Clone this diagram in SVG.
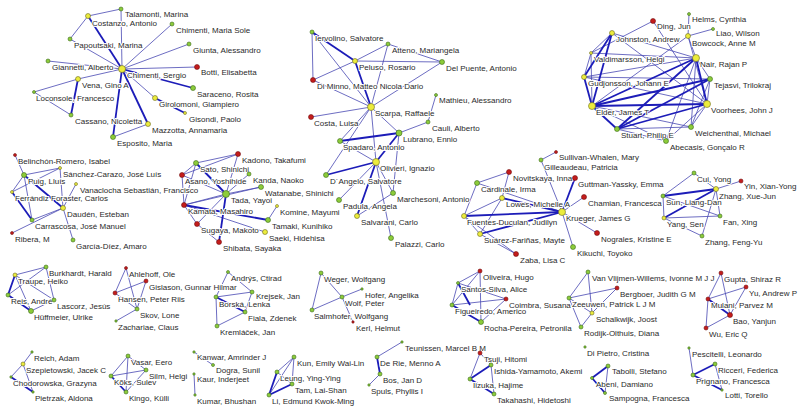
<svg xmlns="http://www.w3.org/2000/svg" width="798" height="408" viewBox="0 0 798 408">
<style>
.e line{stroke:#4848b2;stroke-width:.8}
.e line.t{stroke:#1c1cb8;stroke-width:1.8}
.y{fill:#ecec3c;stroke:#6a6a20;stroke-width:.6}
.g{fill:#8ccc3a;stroke:#3a6a1a;stroke-width:.6}
.r{fill:#c41c1c;stroke:#701010;stroke-width:.6}
text{font-family:"Liberation Sans",Arial,sans-serif;font-size:8px;fill:#2a2a2a;paint-order:stroke;stroke:#fff;stroke-width:2px;stroke-linejoin:round}
</style>
<rect width="798" height="408" fill="#fff"/>
<g id="connectors" class="e">
<!-- cluster Chimenti -->
<line x1="88" y1="16" x2="121" y2="9"/>
<line x1="88" y1="16" x2="70" y2="39"/>
<line x1="121" y1="9" x2="122" y2="69"/>
<line x1="172" y1="24" x2="122" y2="69"/>
<line x1="70" y1="39" x2="122" y2="69"/>
<line x1="189" y1="44" x2="122" y2="69"/>
<line x1="48" y1="61" x2="122" y2="69"/>
<line x1="122" y1="69" x2="197" y2="67"/>
<line x1="78" y1="79" x2="122" y2="69"/>
<line x1="34" y1="92" x2="78" y2="79"/>
<line x1="34" y1="92" x2="71" y2="115"/>
<line x1="122" y1="69" x2="155" y2="98"/>
<line x1="148" y1="124" x2="113" y2="137"/>
<line class="t" x1="88" y1="16" x2="122" y2="69"/>
<line class="t" x1="78" y1="79" x2="71" y2="115"/>
<line class="t" x1="122" y1="69" x2="193" y2="88"/>
<line class="t" x1="155" y1="98" x2="185" y2="113"/>
<line class="t" x1="122" y1="69" x2="113" y2="137"/>
<line class="t" x1="122" y1="69" x2="148" y2="124"/>
<!-- cluster Scarpa -->
<line x1="312" y1="32" x2="313" y2="80"/>
<line x1="312" y1="32" x2="371" y2="107"/>
<line x1="355" y1="61" x2="388" y2="44"/>
<line x1="355" y1="61" x2="313" y2="80"/>
<line x1="355" y1="61" x2="442" y2="62"/>
<line x1="388" y1="44" x2="442" y2="62"/>
<line x1="388" y1="44" x2="371" y2="107"/>
<line x1="442" y1="62" x2="371" y2="107"/>
<line x1="313" y1="80" x2="371" y2="107"/>
<line x1="371" y1="107" x2="311" y2="117"/>
<line x1="371" y1="107" x2="340" y2="141"/>
<line x1="371" y1="107" x2="399" y2="133"/>
<line x1="399" y1="133" x2="428" y2="122"/>
<line x1="428" y1="122" x2="436" y2="95"/>
<line x1="371" y1="107" x2="376" y2="162"/>
<line x1="340" y1="141" x2="376" y2="162"/>
<line x1="326" y1="175" x2="371" y2="107"/>
<line x1="376" y1="162" x2="339" y2="200"/>
<line x1="376" y1="162" x2="393" y2="193"/>
<line x1="399" y1="133" x2="393" y2="193"/>
<line x1="376" y1="162" x2="391" y2="238"/>
<line x1="357" y1="216" x2="393" y2="193"/>
<line class="t" x1="312" y1="32" x2="355" y2="61"/>
<line class="t" x1="355" y1="61" x2="371" y2="107"/>
<line class="t" x1="340" y1="141" x2="399" y2="133"/>
<line class="t" x1="376" y1="162" x2="326" y2="175"/>
<line class="t" x1="376" y1="162" x2="399" y2="133"/>
<line class="t" x1="376" y1="162" x2="357" y2="216"/>
<!-- cluster Elder / Nair -->
<line x1="689" y1="14" x2="688" y2="36"/>
<line x1="713" y1="29" x2="688" y2="36"/>
<line x1="653" y1="21" x2="591" y2="53"/>
<line x1="653" y1="21" x2="707" y2="104"/>
<line x1="612" y1="33" x2="591" y2="53"/>
<line x1="612" y1="33" x2="696" y2="58"/>
<line x1="612" y1="33" x2="707" y2="104"/>
<line x1="688" y1="36" x2="696" y2="58"/>
<line x1="688" y1="36" x2="592" y2="106"/>
<line x1="688" y1="36" x2="707" y2="104"/>
<line x1="591" y1="53" x2="584" y2="77"/>
<line x1="591" y1="53" x2="592" y2="106"/>
<line x1="591" y1="53" x2="696" y2="58"/>
<line x1="584" y1="77" x2="696" y2="58"/>
<line x1="584" y1="77" x2="710" y2="79"/>
<line x1="592" y1="106" x2="691" y2="127"/>
<line x1="592" y1="106" x2="666" y2="141"/>
<line x1="696" y1="58" x2="710" y2="79"/>
<line x1="696" y1="58" x2="691" y2="127"/>
<line x1="696" y1="58" x2="666" y2="141"/>
<line x1="710" y1="79" x2="707" y2="104"/>
<line x1="707" y1="104" x2="691" y2="127"/>
<line x1="707" y1="104" x2="666" y2="141"/>
<line x1="617" y1="129" x2="691" y2="127"/>
<line x1="617" y1="129" x2="666" y2="141"/>
<line x1="710" y1="79" x2="691" y2="127"/>
<line x1="584" y1="77" x2="707" y2="104"/>
<line class="t" x1="612" y1="33" x2="584" y2="77"/>
<line class="t" x1="612" y1="33" x2="592" y2="106"/>
<line class="t" x1="584" y1="77" x2="592" y2="106"/>
<line class="t" x1="592" y1="106" x2="696" y2="58"/>
<line class="t" x1="592" y1="106" x2="710" y2="79"/>
<line class="t" x1="592" y1="106" x2="707" y2="104"/>
<line class="t" x1="592" y1="106" x2="617" y2="129"/>
<line class="t" x1="696" y1="58" x2="707" y2="104"/>
<line class="t" x1="696" y1="58" x2="617" y2="129"/>
<line class="t" x1="710" y1="79" x2="617" y2="129"/>
<line class="t" x1="707" y1="104" x2="617" y2="129"/>
<!-- cluster Daudén -->
<line x1="15" y1="155" x2="24" y2="175"/>
<line x1="24" y1="175" x2="60" y2="168"/>
<line x1="24" y1="175" x2="12" y2="192"/>
<line x1="24" y1="175" x2="32" y2="220"/>
<line x1="60" y1="168" x2="63" y2="208"/>
<line x1="12" y1="192" x2="60" y2="168"/>
<line x1="76" y1="184" x2="63" y2="208"/>
<line x1="32" y1="220" x2="63" y2="208"/>
<line x1="12" y1="233" x2="63" y2="208"/>
<line x1="63" y1="208" x2="73" y2="240"/>
<line class="t" x1="24" y1="175" x2="63" y2="208"/>
<line class="t" x1="12" y1="192" x2="32" y2="220"/>
<!-- cluster Tada -->
<line x1="238" y1="154" x2="196" y2="163"/>
<line x1="238" y1="154" x2="182" y2="175"/>
<line x1="238" y1="154" x2="226" y2="194"/>
<line x1="196" y1="163" x2="182" y2="175"/>
<line x1="182" y1="175" x2="226" y2="194"/>
<line x1="226" y1="194" x2="249" y2="174"/>
<line x1="226" y1="194" x2="261" y2="187"/>
<line x1="226" y1="194" x2="184" y2="205"/>
<line x1="184" y1="205" x2="261" y2="187"/>
<line x1="226" y1="194" x2="197" y2="224"/>
<line x1="268" y1="220" x2="277" y2="206"/>
<line x1="184" y1="205" x2="265" y2="232"/>
<line x1="197" y1="224" x2="219" y2="242"/>
<line x1="184" y1="205" x2="197" y2="224"/>
<line x1="182" y1="175" x2="184" y2="205"/>
<line x1="196" y1="163" x2="184" y2="205"/>
<line class="t" x1="196" y1="163" x2="226" y2="194"/>
<line class="t" x1="226" y1="194" x2="219" y2="242"/>
<line class="t" x1="184" y1="205" x2="268" y2="220"/>
<!-- cluster Krueger -->
<line x1="509" y1="172" x2="477" y2="183"/>
<line x1="509" y1="172" x2="502" y2="198"/>
<line x1="477" y1="183" x2="464" y2="216"/>
<line x1="502" y1="198" x2="464" y2="216"/>
<line x1="502" y1="198" x2="480" y2="234"/>
<line x1="464" y1="216" x2="480" y2="234"/>
<line x1="480" y1="234" x2="516" y2="254"/>
<line x1="464" y1="216" x2="516" y2="254"/>
<line x1="556" y1="152" x2="541" y2="160"/>
<line x1="541" y1="160" x2="562" y2="212"/>
<line x1="584" y1="197" x2="562" y2="212"/>
<line x1="562" y1="212" x2="597" y2="233"/>
<line x1="562" y1="212" x2="573" y2="247"/>
<line x1="477" y1="183" x2="562" y2="212"/>
<line class="t" x1="502" y1="198" x2="562" y2="212"/>
<line class="t" x1="464" y1="216" x2="562" y2="212"/>
<line class="t" x1="480" y1="234" x2="562" y2="212"/>
<line class="t" x1="575" y1="178" x2="562" y2="212"/>
<!-- cluster Zhang -->
<line x1="694" y1="173" x2="663" y2="196"/>
<line x1="694" y1="173" x2="716" y2="189"/>
<line x1="716" y1="189" x2="741" y2="181"/>
<line x1="716" y1="189" x2="720" y2="216"/>
<line x1="716" y1="189" x2="702" y2="236"/>
<line x1="663" y1="196" x2="664" y2="218"/>
<line x1="663" y1="196" x2="720" y2="216"/>
<line x1="664" y1="218" x2="720" y2="216"/>
<line x1="664" y1="218" x2="702" y2="236"/>
<line class="t" x1="716" y1="189" x2="663" y2="196"/>
<line class="t" x1="664" y1="218" x2="716" y2="189"/>
<!-- cluster Traupe -->
<line x1="15" y1="275" x2="46" y2="267"/>
<line x1="15" y1="275" x2="31" y2="311"/>
<line x1="15" y1="275" x2="54" y2="300"/>
<line x1="46" y1="267" x2="8" y2="295"/>
<line x1="46" y1="267" x2="54" y2="300"/>
<line x1="31" y1="311" x2="54" y2="300"/>
<line class="t" x1="15" y1="275" x2="8" y2="295"/>
<line class="t" x1="8" y1="295" x2="31" y2="311"/>
<!-- cluster Ahlehoff -->
<line x1="126" y1="268" x2="115" y2="293"/>
<line x1="126" y1="268" x2="137" y2="309"/>
<line x1="115" y1="293" x2="146" y2="281"/>
<line x1="146" y1="281" x2="137" y2="309"/>
<line x1="115" y1="293" x2="137" y2="309"/>
<line x1="137" y1="309" x2="116" y2="321"/>
<!-- cluster Borská -->
<line x1="228" y1="272" x2="216" y2="297"/>
<line x1="228" y1="272" x2="252" y2="292"/>
<line x1="216" y1="297" x2="252" y2="292"/>
<line x1="216" y1="297" x2="217" y2="326"/>
<line x1="252" y1="292" x2="245" y2="312"/>
<line x1="217" y1="326" x2="245" y2="312"/>
<line class="t" x1="216" y1="297" x2="245" y2="312"/>
<!-- cluster Weger -->
<line x1="321" y1="273" x2="312" y2="310"/>
<line x1="321" y1="273" x2="342" y2="297"/>
<line x1="312" y1="310" x2="342" y2="297"/>
<line x1="342" y1="297" x2="362" y2="289"/>
<line x1="342" y1="297" x2="353" y2="322"/>
<!-- cluster Oliveira -->
<line x1="480" y1="271" x2="458" y2="283"/>
<line x1="480" y1="271" x2="452" y2="305"/>
<line x1="480" y1="271" x2="481" y2="322"/>
<line x1="458" y1="283" x2="452" y2="305"/>
<line x1="458" y1="283" x2="506" y2="299"/>
<line x1="452" y1="305" x2="506" y2="299"/>
<line x1="506" y1="299" x2="481" y2="322"/>
<line class="t" x1="452" y1="305" x2="481" y2="322"/>
<line class="t" x1="458" y1="283" x2="470" y2="305"/>
<!-- cluster Schalkwijk -->
<line x1="588" y1="272" x2="569" y2="298"/>
<line x1="588" y1="272" x2="592" y2="313"/>
<line x1="569" y1="298" x2="617" y2="288"/>
<line x1="569" y1="298" x2="592" y2="313"/>
<line x1="569" y1="298" x2="581" y2="327"/>
<line x1="581" y1="327" x2="592" y2="313"/>
<line x1="617" y1="288" x2="592" y2="313"/>
<!-- cluster Gupta -->
<line x1="721" y1="273" x2="708" y2="299"/>
<line x1="721" y1="273" x2="730" y2="315"/>
<line x1="746" y1="287" x2="708" y2="299"/>
<line x1="746" y1="287" x2="730" y2="315"/>
<line x1="708" y1="299" x2="706" y2="328"/>
<line x1="706" y1="328" x2="730" y2="315"/>
<line class="t" x1="708" y1="299" x2="730" y2="315"/>
<!-- cluster Szepietowski -->
<line x1="32" y1="352" x2="23" y2="364"/>
<line x1="23" y1="364" x2="11" y2="377"/>
<line x1="23" y1="364" x2="33" y2="392"/>
<line class="t" x1="11" y1="377" x2="33" y2="392"/>
<!-- cluster Vasar -->
<line x1="128" y1="356" x2="111" y2="376"/>
<line x1="128" y1="356" x2="146" y2="370"/>
<line x1="128" y1="356" x2="126" y2="392"/>
<line x1="111" y1="376" x2="146" y2="370"/>
<line x1="146" y1="370" x2="126" y2="392"/>
<line class="t" x1="111" y1="376" x2="126" y2="392"/>
<!-- cluster Kanwar -->
<line x1="194" y1="352" x2="213" y2="365"/>
<line x1="194" y1="374" x2="195" y2="395"/>
<!-- cluster Kun -->
<line x1="294" y1="357" x2="277" y2="372"/>
<line x1="294" y1="357" x2="269" y2="395"/>
<line x1="294" y1="357" x2="292" y2="384"/>
<line x1="277" y1="372" x2="292" y2="384"/>
<line class="t" x1="277" y1="372" x2="269" y2="395"/>
<line class="t" x1="269" y1="395" x2="292" y2="384"/>
<!-- cluster De Rie -->
<line x1="377" y1="357" x2="402" y2="342"/>
<line x1="380" y1="374" x2="369" y2="385"/>
<line class="t" x1="377" y1="357" x2="380" y2="374"/>
<!-- cluster Tsuji -->
<line x1="480" y1="353" x2="470" y2="379"/>
<line x1="480" y1="353" x2="491" y2="365"/>
<line x1="491" y1="365" x2="494" y2="394"/>
<line class="t" x1="470" y1="379" x2="491" y2="365"/>
<line class="t" x1="470" y1="379" x2="494" y2="394"/>
<!-- cluster Tabolli -->
<line x1="608" y1="366" x2="605" y2="393"/>
<line class="t" x1="608" y1="366" x2="592" y2="378"/>
<line class="t" x1="592" y1="378" x2="605" y2="393"/>
<!-- cluster Prignano -->
<line x1="689" y1="348" x2="693" y2="375"/>
<line x1="715" y1="364" x2="722" y2="390"/>
<line class="t" x1="693" y1="375" x2="715" y2="364"/>
<line class="t" x1="693" y1="375" x2="722" y2="390"/>
</g>
<g id="nodes">
<g id="costanzo-antonio"><circle class="y" cx="88" cy="16" r="2.5"/><text x="92" y="26">Costanzo, Antonio</text></g>
<g id="talamonti-marina"><circle class="g" cx="121" cy="9" r="2"/><text x="125" y="17">Talamonti, Marina</text></g>
<g id="chimenti-maria-sole"><circle class="g" cx="172" cy="24" r="2"/><text x="176" y="33">Chimenti, Maria Sole</text></g>
<g id="papoutsaki-marina"><circle class="g" cx="70" cy="39" r="2"/><text x="74" y="48">Papoutsaki, Marina</text></g>
<g id="giunta-alessandro"><circle class="g" cx="189" cy="44" r="2"/><text x="193" y="53">Giunta, Alessandro</text></g>
<g id="giannetti-alberto"><circle class="g" cx="48" cy="61" r="2"/><text x="52" y="70">Giannetti, Alberto</text></g>
<g id="chimenti-sergio"><circle class="y" cx="122" cy="69" r="3.5"/><text x="127" y="78">Chimenti, Sergio</text></g>
<g id="botti-elisabetta"><circle class="r" cx="197" cy="67" r="2.5"/><text x="201" y="75">Botti, Elisabetta</text></g>
<g id="vena-gino-a"><circle class="y" cx="78" cy="79" r="2.5"/><text x="82" y="88">Vena, Gino A</text></g>
<g id="loconsole-francesco"><circle class="g" cx="34" cy="92" r="1.5"/><text x="36" y="101">Loconsole, Francesco</text></g>
<g id="saraceno-rosita"><circle class="g" cx="193" cy="88" r="2.5"/><text x="197" y="97">Saraceno, Rosita</text></g>
<g id="girolomoni-giampiero"><circle class="y" cx="155" cy="98" r="2.5"/><text x="159" y="107">Girolomoni, Giampiero</text></g>
<g id="gisondi-paolo"><circle class="y" cx="185" cy="113" r="1.5"/><text x="189" y="122">Gisondi, Paolo</text></g>
<g id="cassano-nicoletta"><circle class="g" cx="71" cy="115" r="2"/><text x="75" y="124">Cassano, Nicoletta</text></g>
<g id="mazzotta-annamaria"><circle class="y" cx="148" cy="124" r="2.5"/><text x="152" y="133">Mazzotta, Annamaria</text></g>
<g id="esposito-maria"><circle class="g" cx="113" cy="137" r="2.5"/><text x="117" y="146">Esposito, Maria</text></g>

<g id="iervolino-salvatore"><circle class="g" cx="312" cy="32" r="2"/><text x="315" y="41">Iervolino, Salvatore</text></g>
<g id="atteno-mariangela"><circle class="g" cx="388" cy="44" r="2"/><text x="392" y="53">Atteno, Mariangela</text></g>
<g id="peluso-rosario"><circle class="y" cx="355" cy="61" r="2.5"/><text x="359" y="70">Peluso, Rosario</text></g>
<g id="del-puente-antonio"><circle class="g" cx="442" cy="62" r="2.5"/><text x="446" y="71">Del Puente, Antonio</text></g>
<g id="di-minno"><circle class="r" cx="313" cy="80" r="2.5"/><text x="317" y="89">Di Minno, Matteo Nicola Dario</text></g>
<g id="mathieu-alessandro"><circle class="g" cx="436" cy="95" r="1.5"/><text x="439" y="103">Mathieu, Alessandro</text></g>
<g id="scarpa-raffaele"><circle class="y" cx="371" cy="107" r="3.5"/><text x="375" y="116">Scarpa, Raffaele</text></g>
<g id="costa-luisa"><circle class="r" cx="311" cy="117" r="2.5"/><text x="314" y="126">Costa, Luisa</text></g>
<g id="cauli-alberto"><circle class="g" cx="428" cy="122" r="2"/><text x="432" y="131">Cauli, Alberto</text></g>
<g id="lubrano-ennio"><circle class="g" cx="399" cy="133" r="3"/><text x="403" y="142">Lubrano, Ennio</text></g>
<g id="spadaro-antonio"><circle class="g" cx="340" cy="141" r="2.5"/><text x="343" y="150">Spadaro, Antonio</text></g>
<g id="olivieri-ignazio"><circle class="y" cx="376" cy="162" r="3.5"/><text x="380" y="171">Olivieri, Ignazio</text></g>
<g id="dangelo-salvatore"><circle class="g" cx="326" cy="175" r="2.5"/><text x="330" y="184">D´Angelo, Salvatore</text></g>
<g id="marchesoni-antonio"><circle class="g" cx="393" cy="193" r="2.5"/><text x="397" y="202">Marchesoni, Antonio</text></g>
<g id="padula-angela"><circle class="g" cx="339" cy="200" r="2.5"/><text x="343" y="209">Padula, Angela</text></g>
<g id="salvarani-carlo"><circle class="y" cx="357" cy="216" r="2.5"/><text x="361" y="225">Salvarani, Carlo</text></g>
<g id="palazzi-carlo"><circle class="g" cx="391" cy="238" r="2.5"/><text x="395" y="247">Palazzi, Carlo</text></g>

<g id="ding-jun"><circle class="r" cx="653" cy="21" r="2.5"/><text x="657" y="29">Ding, Jun</text></g>
<g id="helms-cynthia"><circle class="g" cx="689" cy="14" r="1.5"/><text x="692" y="22">Helms, Cynthia</text></g>
<g id="liao-wilson"><circle class="g" cx="713" cy="29" r="1.5"/><text x="716" y="36">Liao, Wilson</text></g>
<g id="johnston-andrew"><circle class="y" cx="612" cy="33" r="2.5"/><text x="616" y="42">Johnston, Andrew</text></g>
<g id="bowcock-anne-m"><circle class="y" cx="688" cy="36" r="2.5"/><text x="692" y="46">Bowcock, Anne M</text></g>
<g id="valdimarsson-helgi"><circle class="y" cx="591" cy="53" r="1.5"/><text x="594" y="62">Valdimarsson, Helgi</text></g>
<g id="nair-rajan-p"><circle class="y" cx="696" cy="58" r="3.5"/><text x="700" y="67">Nair, Rajan P</text></g>
<g id="gudjonsson-johann-e"><circle class="y" cx="584" cy="77" r="2.5"/><text x="588" y="86">Gudjonsson, Johann E</text></g>
<g id="tejasvi-trilokraj"><circle class="g" cx="710" cy="79" r="2.5"/><text x="714" y="88">Tejasvi, Trilokraj</text></g>
<g id="elder-james-t"><circle class="y" cx="592" cy="106" r="3.5"/><text x="596" y="115">Elder, James T</text></g>
<g id="voorhees-john-j"><circle class="y" cx="707" cy="104" r="3.5"/><text x="711" y="113">Voorhees, John J</text></g>
<g id="stuart-philip-e"><circle class="g" cx="617" cy="129" r="2.5"/><text x="621" y="138">Stuart, Philip E</text></g>
<g id="weichenthal-michael"><circle class="g" cx="691" cy="127" r="2.5"/><text x="695" y="136">Weichenthal, Michael</text></g>
<g id="abecasis-goncalo-r"><circle class="g" cx="666" cy="141" r="2.5"/><text x="670" y="150">Abecasis, Gonçalo R</text></g>

<g id="belinchon-romero-isabel"><circle class="r" cx="15" cy="155" r="1.5"/><text x="18" y="164">Belinchón-Romero, Isabel</text></g>
<g id="sanchez-carazo"><circle class="y" cx="60" cy="168" r="1.5"/><text x="63" y="177">Sánchez-Carazo, José Luís</text></g>
<g id="puig-lluis"><circle class="g" cx="24" cy="175" r="2.5"/><text x="28" y="184">Puig, Lluís</text></g>
<g id="vanaclocha"><circle class="y" cx="76" cy="184" r="1.5"/><text x="80" y="193">Vanaclocha Sebastián, Francisco</text></g>
<g id="ferrandiz-foraster-carlos"><circle class="y" cx="12" cy="192" r="1.5"/><text x="15" y="201">Ferrándiz Foraster, Carlos</text></g>
<g id="dauden-esteban"><circle class="y" cx="63" cy="208" r="2.5"/><text x="67" y="217">Daudén, Esteban</text></g>
<g id="carrascosa"><circle class="g" cx="32" cy="220" r="2"/><text x="35" y="229">Carrascosa, José Manuel</text></g>
<g id="ribera-m"><circle class="r" cx="12" cy="233" r="1.5"/><text x="15" y="242">Ribera, M</text></g>
<g id="garcia-diez-amaro"><circle class="g" cx="73" cy="240" r="2"/><text x="76" y="249">García-Díez, Amaro</text></g>

<g id="kadono-takafumi"><circle class="r" cx="238" cy="154" r="2.5"/><text x="242" y="163">Kadono, Takafumi</text></g>
<g id="sato-shinichi"><circle class="g" cx="196" cy="163" r="2.5"/><text x="200" y="172">Sato, Shinichi</text></g>
<g id="asano-yoshihide"><circle class="r" cx="182" cy="175" r="2.5"/><text x="185" y="184">Asano, Yoshihide</text></g>
<g id="kanda-naoko"><circle class="g" cx="249" cy="174" r="2"/><text x="253" y="183">Kanda, Naoko</text></g>
<g id="watanabe-shinichi"><circle class="g" cx="261" cy="187" r="2.5"/><text x="265" y="196">Watanabe, Shinichi</text></g>
<g id="tada-yayoi"><circle class="g" cx="226" cy="194" r="3.5"/><text x="231" y="203">Tada, Yayoi</text></g>
<g id="kamata-masahiro"><circle class="r" cx="184" cy="205" r="2.5"/><text x="188" y="214">Kamata, Masahiro</text></g>
<g id="komine-mayumi"><circle class="y" cx="277" cy="206" r="1.5"/><text x="280" y="215">Komine, Mayumi</text></g>
<g id="tamaki-kunihiko"><circle class="g" cx="268" cy="220" r="2.5"/><text x="272" y="229">Tamaki, Kunihiko</text></g>
<g id="sugaya-makoto"><circle class="r" cx="197" cy="224" r="2.5"/><text x="201" y="233">Sugaya, Makoto</text></g>
<g id="saeki-hidehisa"><circle class="y" cx="265" cy="232" r="2.5"/><text x="269" y="241">Saeki, Hidehisa</text></g>
<g id="shibata-sayaka"><circle class="r" cx="219" cy="242" r="2.5"/><text x="223" y="251">Shibata, Sayaka</text></g>

<g id="novitskaya-inna"><circle class="r" cx="509" cy="172" r="2.5"/><text x="513" y="181">Novitskaya, Inna</text></g>
<g id="cardinale-irma"><circle class="g" cx="477" cy="183" r="2.5"/><text x="481" y="192">Cardinale, Irma</text></g>
<g id="lowes-michelle-a"><circle class="y" cx="502" cy="198" r="2.5"/><text x="506" y="207">Lowes, Michelle A</text></g>
<g id="fuentes-duculan-judilyn"><circle class="y" cx="464" cy="216" r="2.5"/><text x="467" y="225">Fuentes-Duculan, Judilyn</text></g>
<g id="suarez-farinas-mayte"><circle class="y" cx="480" cy="234" r="2.5"/><text x="484" y="243">Suárez-Fariñas, Mayte</text></g>
<g id="zaba-lisa-c"><circle class="r" cx="516" cy="254" r="2.5"/><text x="520" y="263">Zaba, Lisa C</text></g>
<g id="sullivan-whalen-mary"><circle class="r" cx="556" cy="152" r="1.5"/><text x="559" y="160">Sullivan-Whalen, Mary</text></g>
<g id="gilleaudeau-patricia"><circle class="g" cx="541" cy="160" r="2"/><text x="544" y="170">Gilleaudeau, Patricia</text></g>
<g id="guttman-yassky-emma"><circle class="r" cx="575" cy="178" r="2.5"/><text x="578" y="187">Guttman-Yassky, Emma</text></g>
<g id="chamian-francesca"><circle class="r" cx="584" cy="197" r="2.5"/><text x="588" y="206">Chamian, Francesca</text></g>
<g id="krueger-james-g"><circle class="y" cx="562" cy="212" r="3.5"/><text x="566" y="221">Krueger, James G</text></g>
<g id="nograles-kristine-e"><circle class="r" cx="597" cy="233" r="2.5"/><text x="601" y="242">Nograles, Kristine E</text></g>
<g id="kikuchi-toyoko"><circle class="g" cx="573" cy="247" r="2.5"/><text x="577" y="256">Kikuchi, Toyoko</text></g>

<g id="cui-yong"><circle class="g" cx="694" cy="173" r="2"/><text x="697" y="182">Cui, Yong</text></g>
<g id="yin-xian-yong"><circle class="r" cx="741" cy="181" r="2"/><text x="744" y="189">Yin, Xian-Yong</text></g>
<g id="zhang-xue-jun"><circle class="y" cx="716" cy="189" r="2.5"/><text x="719" y="199">Zhang, Xue-Jun</text></g>
<g id="sun-liang-dan"><circle class="g" cx="663" cy="196" r="2"/><text x="666" y="205">Sun, Liang-Dan</text></g>
<g id="yang-sen"><circle class="y" cx="664" cy="218" r="2"/><text x="667" y="227">Yang, Sen</text></g>
<g id="fan-xing"><circle class="g" cx="720" cy="216" r="2"/><text x="723" y="225">Fan, Xing</text></g>
<g id="zhang-feng-yu"><circle class="g" cx="702" cy="236" r="2"/><text x="705" y="245">Zhang, Feng-Yu</text></g>

<g id="burkhardt-harald"><circle class="g" cx="46" cy="267" r="2"/><text x="49" y="276">Burkhardt, Harald</text></g>
<g id="traupe-heiko"><circle class="y" cx="15" cy="275" r="2"/><text x="18" y="284">Traupe, Heiko</text></g>
<g id="reis-andre"><circle class="g" cx="8" cy="295" r="2"/><text x="11" y="304">Reis, André</text></g>
<g id="lascorz-jesus"><circle class="g" cx="54" cy="300" r="2"/><text x="57" y="309">Lascorz, Jesús</text></g>
<g id="huffmeier-ulrike"><circle class="g" cx="31" cy="311" r="2.5"/><text x="34" y="320">Hüffmeier, Ulrike</text></g>

<g id="ahlehoff-ole"><circle class="r" cx="126" cy="268" r="1.5"/><text x="129" y="277">Ahlehoff, Ole</text></g>
<g id="gislason-gunnar-hilmar"><circle class="r" cx="146" cy="281" r="2"/><text x="149" y="290">Gislason, Gunnar Hilmar</text></g>
<g id="hansen-peter-riis"><circle class="r" cx="115" cy="293" r="2"/><text x="118" y="302">Hansen, Peter Riis</text></g>
<g id="skov-lone"><circle class="g" cx="137" cy="309" r="2"/><text x="140" y="318">Skov, Lone</text></g>
<g id="zachariae-claus"><circle class="g" cx="116" cy="321" r="1.2"/><text x="118" y="330">Zachariae, Claus</text></g>

<g id="andrys-ctirad"><circle class="g" cx="228" cy="272" r="1.5"/><text x="231" y="281">Andrýs, Ctirad</text></g>
<g id="krejsek-jan"><circle class="g" cx="252" cy="292" r="2"/><text x="256" y="299">Krejsek, Jan</text></g>
<g id="borska-lenka"><circle class="g" cx="216" cy="297" r="2"/><text x="219" y="307">Borská, Lenka</text></g>
<g id="fiala-zdenek"><circle class="g" cx="245" cy="312" r="2"/><text x="248" y="321">Fiala, Zdenek</text></g>
<g id="kremlacek-jan"><circle class="g" cx="217" cy="326" r="2"/><text x="220" y="335">Kremláček, Jan</text></g>

<g id="weger-wolfgang"><circle class="g" cx="321" cy="273" r="2"/><text x="324" y="282">Weger, Wolfgang</text></g>
<g id="hofer-angelika"><circle class="g" cx="362" cy="289" r="1.2"/><text x="365" y="298">Hofer, Angelika</text></g>
<g id="wolf-peter"><circle class="g" cx="342" cy="297" r="2"/><text x="345" y="306">Wolf, Peter</text></g>
<g id="salmhofer-wolfgang"><circle class="g" cx="312" cy="310" r="2"/><text x="314" y="319">Salmhofer, Wolfgang</text></g>
<g id="kerl-helmut"><circle class="r" cx="353" cy="322" r="1.2"/><text x="356" y="331">Kerl, Helmut</text></g>

<g id="oliveira-hugo"><circle class="r" cx="480" cy="271" r="2"/><text x="483" y="280">Oliveira, Hugo</text></g>
<g id="santos-silva-alice"><circle class="g" cx="458" cy="283" r="1.5"/><text x="461" y="292">Santos-Silva, Alice</text></g>
<g id="coimbra-susana"><circle class="r" cx="506" cy="299" r="2"/><text x="509" y="308">Coimbra, Susana</text></g>
<g id="figueiredo-americo"><circle class="g" cx="452" cy="305" r="2"/><text x="455" y="314">Figueiredo, Americo</text></g>
<g id="rocha-pereira-petronila"><circle class="g" cx="481" cy="322" r="2.5"/><text x="484" y="331">Rocha-Pereira, Petronila</text></g>

<g id="van-vlijmen-willems"><circle class="g" cx="588" cy="272" r="2"/><text x="592" y="281">Van Vlijmen-Willems, Ivonne M J J</text></g>
<g id="bergboer-judith-g-m"><circle class="r" cx="617" cy="288" r="2"/><text x="620" y="297">Bergboer, Judith G M</text></g>
<g id="zeeuwen-patrick"><circle class="g" cx="569" cy="298" r="2"/><text x="572" y="307">Zeeuwen, Patrick L J M</text></g>
<g id="schalkwijk-joost"><circle class="y" cx="592" cy="313" r="2"/><text x="596" y="322">Schalkwijk, Joost</text></g>
<g id="rodijk-olthuis-diana"><circle class="g" cx="581" cy="327" r="2"/><text x="584" y="336">Rodijk-Olthuis, Diana</text></g>

<g id="gupta-shiraz-r"><circle class="r" cx="721" cy="273" r="2"/><text x="724" y="282">Gupta, Shiraz R</text></g>
<g id="yu-andrew-p"><circle class="r" cx="746" cy="287" r="2"/><text x="749" y="296">Yu, Andrew P</text></g>
<g id="mulani-parvez-m"><circle class="r" cx="708" cy="299" r="2"/><text x="711" y="308">Mulani, Parvez M</text></g>
<g id="bao-yanjun"><circle class="r" cx="730" cy="315" r="2.5"/><text x="733" y="324">Bao, Yanjun</text></g>
<g id="wu-eric-q"><circle class="r" cx="706" cy="328" r="2"/><text x="709" y="337">Wu, Eric Q</text></g>

<g id="reich-adam"><circle class="g" cx="32" cy="352" r="1.2"/><text x="34" y="361">Reich, Adam</text></g>
<g id="szepietowski-jacek-c"><circle class="y" cx="23" cy="364" r="2"/><text x="26" y="373">Szepietowski, Jacek C</text></g>
<g id="chodorowska-grazyna"><circle class="g" cx="11" cy="377" r="1.2"/><text x="13" y="386">Chodorowska, Grazyna</text></g>
<g id="pietrzak-aldona"><circle class="g" cx="33" cy="392" r="1.2"/><text x="35" y="401">Pietrzak, Aldona</text></g>

<g id="vasar-eero"><circle class="g" cx="128" cy="356" r="2"/><text x="131" y="365">Vasar, Eero</text></g>
<g id="silm-helgi"><circle class="g" cx="146" cy="370" r="2"/><text x="149" y="379">Silm, Helgi</text></g>
<g id="koks-sulev"><circle class="g" cx="111" cy="376" r="2"/><text x="114" y="385">Kõks, Sulev</text></g>
<g id="kingo-kulli"><circle class="g" cx="126" cy="392" r="2"/><text x="129" y="401">Kingo, Külli</text></g>

<g id="kanwar-amrinder-j"><circle class="g" cx="194" cy="352" r="1.2"/><text x="197" y="360">Kanwar, Amrinder J</text></g>
<g id="dogra-sunil"><circle class="g" cx="213" cy="365" r="1.5"/><text x="216" y="373">Dogra, Sunil</text></g>
<g id="kaur-inderjeet"><circle class="g" cx="194" cy="374" r="1.2"/><text x="197" y="382">Kaur, Inderjeet</text></g>
<g id="kumar-bhushan"><circle class="g" cx="195" cy="395" r="1.2"/><text x="197" y="404">Kumar, Bhushan</text></g>

<g id="kun-emily-wai-lin"><circle class="g" cx="294" cy="357" r="2"/><text x="297" y="366">Kun, Emily Wai-Lin</text></g>
<g id="leung-ying-ying"><circle class="g" cx="277" cy="372" r="2"/><text x="280" y="381">Leung, Ying-Ying</text></g>
<g id="tam-lai-shan"><circle class="g" cx="292" cy="384" r="2"/><text x="295" y="393">Tam, Lai-Shan</text></g>
<g id="li-edmund-kwok-ming"><circle class="g" cx="269" cy="395" r="2"/><text x="272" y="404">Li, Edmund Kwok-Ming</text></g>

<g id="teunissen-marcel-b-m"><circle class="g" cx="402" cy="342" r="1.2"/><text x="405" y="351">Teunissen, Marcel B M</text></g>
<g id="de-rie-menno-a"><circle class="g" cx="377" cy="357" r="2"/><text x="380" y="366">De Rie, Menno A</text></g>
<g id="bos-jan-d"><circle class="g" cx="380" cy="374" r="2"/><text x="383" y="383">Bos, Jan D</text></g>
<g id="spuls-phyllis-i"><circle class="g" cx="369" cy="385" r="1.2"/><text x="371" y="394">Spuls, Phyllis I</text></g>

<g id="tsuji-hitomi"><circle class="r" cx="480" cy="353" r="2"/><text x="484" y="362">Tsuji, Hitomi</text></g>
<g id="ishida-yamamoto-akemi"><circle class="g" cx="491" cy="365" r="2"/><text x="494" y="374">Ishida-Yamamoto, Akemi</text></g>
<g id="iizuka-hajime"><circle class="g" cx="470" cy="379" r="2"/><text x="473" y="388">Iizuka, Hajime</text></g>
<g id="takahashi-hidetoshi"><circle class="g" cx="494" cy="394" r="2"/><text x="497" y="403">Takahashi, Hidetoshi</text></g>

<g id="di-pietro-cristina"><circle class="g" cx="585" cy="347" r="1.2"/><text x="587" y="356">Di Pietro, Cristina</text></g>
<g id="tabolli-stefano"><circle class="g" cx="608" cy="366" r="2"/><text x="612" y="374">Tabolli, Stefano</text></g>
<g id="abeni-damiano"><circle class="g" cx="592" cy="378" r="1.5"/><text x="596" y="387">Abeni, Damiano</text></g>
<g id="sampogna-francesca"><circle class="g" cx="605" cy="393" r="1.5"/><text x="609" y="401">Sampogna, Francesca</text></g>

<g id="pescitelli-leonardo"><circle class="g" cx="689" cy="348" r="1.2"/><text x="692" y="357">Pescitelli, Leonardo</text></g>
<g id="ricceri-federica"><circle class="g" cx="715" cy="364" r="2"/><text x="718" y="373">Ricceri, Federica</text></g>
<g id="prignano-francesca"><circle class="g" cx="693" cy="375" r="2"/><text x="696" y="384">Prignano, Francesca</text></g>
<g id="lotti-torello"><circle class="g" cx="722" cy="390" r="1.2"/><text x="725" y="398">Lotti, Torello</text></g>
</g>
</svg>
